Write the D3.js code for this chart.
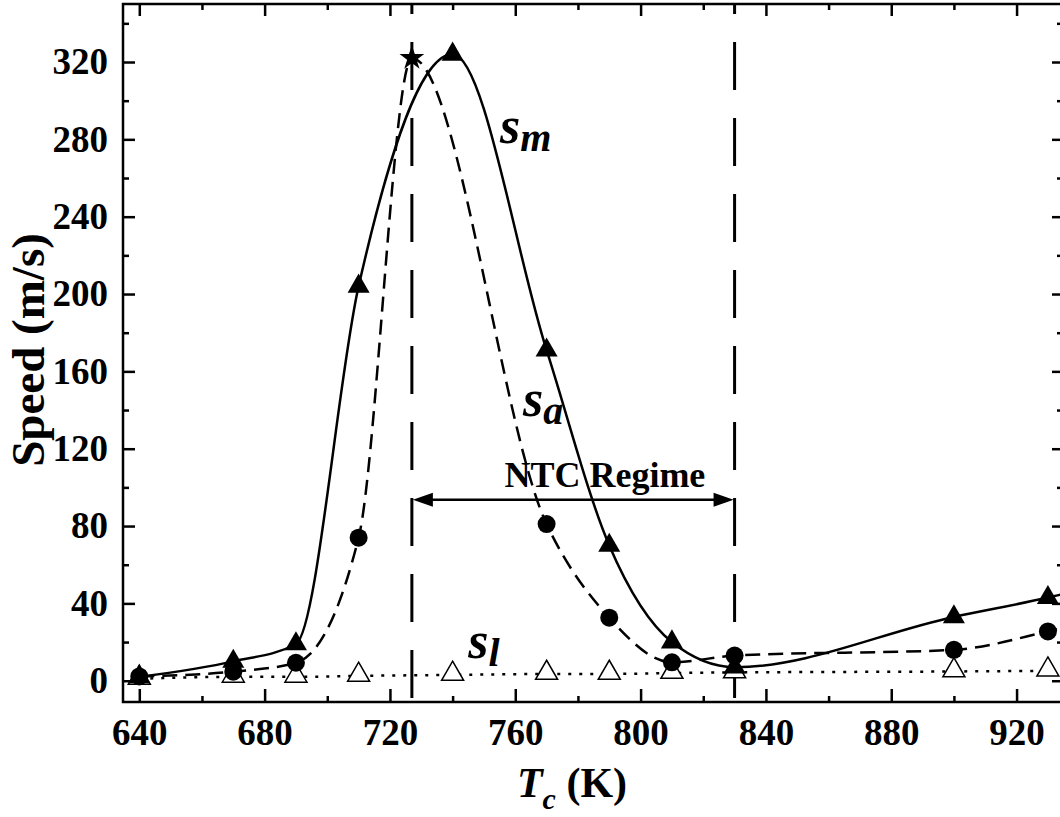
<!DOCTYPE html>
<html>
<head>
<meta charset="utf-8">
<script src="https://cdn.jsdelivr.net/npm/d3@7"></script>
<style>
  body { margin: 0; background: #fff; }
  svg { display: block; font-family: "Liberation Serif", "Times New Roman", serif; }
</style>
</head>
<body>
<div id="chart"></div>
<script>
// Speed vs. Tc chart

const width = 1060;
const height = 817;
const margin = {left: 123, right: -2, top: 4, bottom: 115};

// data
const temps = [640, 670, 690, 710, 740, 770, 790, 810, 830, 900, 930];
const sM    = [2, 10, 19, 204, 324, 171, 70, 20, 7, 33, 43];      // filled triangles
const sL    = [1, 2, 2, 2.5, 3, 3.5, 3.5, 4, 4.3, 4.8, 5.2];       // open triangles
const aTemps = [640, 670, 690, 710, 770, 790, 810, 830, 900, 930];
const sA     = [2.2, 4.7, 9.3, 74, 81, 32.6, 9.5, 13, 16, 25.5];   // filled circles
const star = {t: 727, v: 322};                                      // peak of s_a
const edgeT = 934;                                                  // curves run to the frame
const edgeVals = {m: 44.5, a: 27, l: 5.4};
const ntcBounds = [727, 830];
const ntcArrowY = 93.6;
const xMajor = [640, 680, 720, 760, 800, 840, 880, 920];
const xMinor = [660, 700, 740, 780, 820, 860, 900];
const yMajor = [0, 40, 80, 120, 160, 200, 240, 280, 320];
const yMinor = [20, 60, 100, 140, 180, 220, 260, 300, 340];

const svg = d3.select("#chart")
  .append("svg")
  .attr("width", width)
  .attr("height", height);

const x = d3.scaleLinear()
  .domain([634.8, 934.5])
  .range([margin.left, width - margin.right]);

const y = d3.scaleLinear()
  .domain([-11, 350])
  .range([height - margin.bottom, margin.top]);

const x0 = x.range()[0], x1 = x.range()[1];
const y0 = y.range()[0], y1 = y.range()[1];

/* axes */

function styleAxis(g) {
  g.select(".domain").remove();
  g.selectAll(".tick line").attr("stroke", "#000").attr("stroke-width", 2.5);
  g.selectAll("text")
    .attr("fill", "#000")
    .style("font-size", "37px")
    .style("font-weight", "bold")
    .style("font-family", "'Liberation Serif', 'Times New Roman', serif");
}

// bottom
svg.append("g")
  .attr("transform", `translate(0,${y0})`)
  .call(d3.axisBottom(x).tickValues(xMajor).tickSize(-13).tickPadding(17).tickFormat(d3.format("d")))
  .call(styleAxis);
svg.append("g")
  .attr("transform", `translate(0,${y0})`)
  .call(d3.axisBottom(x).tickValues(xMinor).tickSize(-6).tickFormat(""))
  .call(styleAxis);

// top
svg.append("g")
  .attr("transform", `translate(0,${y1})`)
  .call(d3.axisTop(x).tickValues(xMajor).tickSize(-12).tickFormat(""))
  .call(styleAxis);
svg.append("g")
  .attr("transform", `translate(0,${y1})`)
  .call(d3.axisTop(x).tickValues(xMinor).tickSize(-6).tickFormat(""))
  .call(styleAxis);

// left
svg.append("g")
  .attr("transform", `translate(${x0},0)`)
  .call(d3.axisLeft(y).tickValues(yMajor).tickSize(-12).tickPadding(15).tickFormat(d3.format("d")))
  .call(styleAxis);
svg.append("g")
  .attr("transform", `translate(${x0},0)`)
  .call(d3.axisLeft(y).tickValues(yMinor).tickSize(-6).tickFormat(""))
  .call(styleAxis);

// right
svg.append("g")
  .attr("transform", `translate(${x1},0)`)
  .call(d3.axisRight(y).tickValues(yMajor).tickSize(-10).tickFormat(""))
  .call(styleAxis);
svg.append("g")
  .attr("transform", `translate(${x1},0)`)
  .call(d3.axisRight(y).tickValues(yMinor).tickSize(-5).tickFormat(""))
  .call(styleAxis);

// frame
svg.append("rect")
  .attr("x", x0).attr("y", y1)
  .attr("width", x1 - x0).attr("height", y0 - y1)
  .attr("fill", "none")
  .attr("stroke", "#000")
  .attr("stroke-width", 2.5);

/* NTC boundaries */

svg.selectAll(".ntc-line")
  .data(ntcBounds)
  .enter()
  .append("line")
    .attr("class", "ntc-line")
    .attr("x1", d => x(d)).attr("x2", d => x(d))
    .attr("y1", y1).attr("y2", y0)
    .attr("stroke", "#000")
    .attr("stroke-width", 3)
    .attr("stroke-dasharray", "48,28")
    .attr("stroke-dashoffset", 38);

/* curves */

const line = d3.line()
  .x(d => x(d[0]))
  .y(d => y(d[1]))
  .curve(d3.curveMonotoneX);

const mPts = temps.map((t, i) => [t, sM[i]]).concat([[edgeT, edgeVals.m]]);
const lPts = temps.map((t, i) => [t, sL[i]]).concat([[edgeT, edgeVals.l]]);
const aPts = aTemps.map((t, i) => [t, sA[i]]);
aPts.splice(4, 0, [star.t, star.v]);
aPts.push([edgeT, edgeVals.a]);

svg.append("path")
  .datum(mPts)
  .attr("d", line)
  .attr("fill", "none")
  .attr("stroke", "#000")
  .attr("stroke-width", 2.5);

svg.append("path")
  .datum(aPts)
  .attr("d", line)
  .attr("fill", "none")
  .attr("stroke", "#000")
  .attr("stroke-width", 2.5)
  .attr("stroke-dasharray", "15,8");

svg.append("path")
  .datum(lPts)
  .attr("d", line)
  .attr("fill", "none")
  .attr("stroke", "#000")
  .attr("stroke-width", 2.5)
  .attr("stroke-dasharray", "3,8");

/* markers */

const triUp = d3.symbol().type(d3.symbolTriangle).size(210);

svg.selectAll(".open-tri")
  .data(temps)
  .enter()
  .append("path")
    .attr("class", "open-tri")
    .attr("d", triUp)
    .attr("transform", (d, i) => `translate(${x(d)},${y(sL[i]) - 1})`)
    .attr("fill", "#fff")
    .attr("stroke", "#000")
    .attr("stroke-width", 1.5);

svg.selectAll(".circ")
  .data(aTemps)
  .enter()
  .append("circle")
    .attr("class", "circ")
    .attr("cx", d => x(d))
    .attr("cy", (d, i) => y(sA[i]))
    .attr("r", 9)
    .attr("fill", "#000");

svg.selectAll(".tri")
  .data(temps)
  .enter()
  .append("path")
    .attr("class", "tri")
    .attr("d", triUp)
    .attr("transform", (d, i) => `translate(${x(d)},${y(sM[i])})`)
    .attr("fill", "#000");

svg.append("path")
  .attr("d", d3.symbol().type(d3.symbolStar).size(190)())
  .attr("transform", `translate(${x(star.t)},${y(star.v)})`)
  .attr("fill", "#000");

/* NTC arrow */

const ay = y(ntcArrowY);
const ax1 = x(ntcBounds[0]) + 1, ax2 = x(ntcBounds[1]) - 1;
svg.append("line")
  .attr("x1", ax1 + 10).attr("x2", ax2 - 10)
  .attr("y1", ay).attr("y2", ay)
  .attr("stroke", "#000")
  .attr("stroke-width", 2.5);
svg.append("path")
  .attr("d", `M${ax1},${ay} L${ax1 + 20},${ay - 7} L${ax1 + 20},${ay + 7} Z`)
  .attr("fill", "#000");
svg.append("path")
  .attr("d", `M${ax2},${ay} L${ax2 - 20},${ay - 7} L${ax2 - 20},${ay + 7} Z`)
  .attr("fill", "#000");

svg.append("text")
  .attr("x", x(788.6))
  .attr("y", y(100))
  .attr("text-anchor", "middle")
  .style("font-size", "36px")
  .style("font-weight", "bold")
  .text("NTC Regime");

/* curve labels */

function subLabel(t, v, sub) {
  const txt = svg.append("text")
    .attr("x", x(t))
    .attr("y", y(v))
    .style("font-weight", "bold")
    .style("font-style", "italic");
  txt.append("tspan").style("font-size", "52px").text("s");
  txt.append("tspan").style("font-size", "40px").attr("dy", 8).text(sub);
}
subLabel(755.1, 278, "m");
subLabel(762.5, 137, "a");
subLabel(745, 11.7, "l");

/* axis titles */

const xt = svg.append("text")
  .attr("x", 572)
  .attr("y", 797)
  .attr("text-anchor", "middle")
  .style("font-weight", "bold")
  .style("font-size", "42px");
xt.append("tspan").style("font-style", "italic").text("T");
xt.append("tspan").style("font-style", "italic").style("font-size", "30px").attr("dy", 12).text("c");
xt.append("tspan").attr("dy", -12).text(" (K)");

svg.append("text")
  .attr("transform", `translate(44,350) rotate(-90)`)
  .attr("text-anchor", "middle")
  .style("font-weight", "bold")
  .style("font-size", "47px")
  .text("Speed (m/s)");
</script>
</body>
</html>
